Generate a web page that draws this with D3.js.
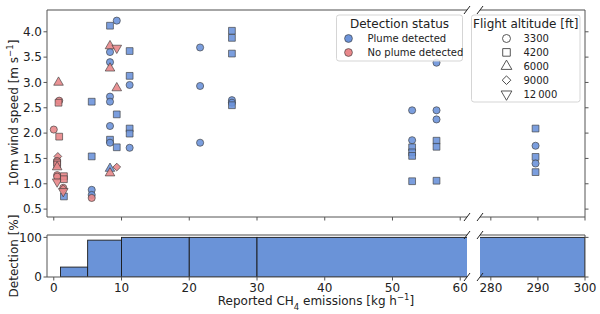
<!DOCTYPE html>
<html><head><meta charset="utf-8">
<script src="https://cdn.jsdelivr.net/npm/d3@7"></script>
<style>
body{margin:0;background:#fff;}
text{font-family:"DejaVu Sans",sans-serif;fill:#222;}
</style></head>
<body><svg id="c" width="600" height="314"></svg>
<script>
// ---- data ----
const plumeX    = [8.3,9.3,8.3,11.2,8.3,11.2,11.2,8.3,8.3,5.6,9.3,8.3,11.2,11.2,8.3,8.3,9.3,11.2,5.6,8.3,5.6,5.6,1.5,
                   21.6,21.6,21.6,26.3,26.3,26.3,26.3,26.3,26.3,
                   52.9,52.9,52.9,52.9,52.9,52.9,56.5,56.5,56.5,56.5,56.5,56.5,
                   289.5,289.5,289.5,289.5,289.5];
const plumeWind = [4.12,4.22,3.60,3.62,3.40,3.13,2.95,2.72,2.62,2.62,2.37,2.14,2.09,1.99,1.87,1.81,1.72,1.71,1.54,1.30,0.88,0.78,0.75,
                   3.69,2.93,1.81,4.02,3.88,3.57,2.65,2.60,2.55,
                   2.45,1.86,1.72,1.62,1.55,1.05,3.39,2.45,2.27,1.85,1.73,1.06,
                   2.09,1.75,1.53,1.40,1.23];
const plumeAlt  = [4200,3300,3300,4200,3300,4200,3300,3300,3300,4200,4200,3300,4200,4200,4200,3300,4200,3300,4200,6000,3300,3300,4200,
                   3300,3300,3300,4200,4200,4200,3300,3300,4200,
                   3300,3300,4200,4200,4200,4200,3300,3300,3300,4200,4200,4200,
                   4200,3300,4200,3300,4200];
const noPlumeX    = [0.7,0.8,0.7,0.0,0.8,0.6,0.5,0.5,0.5,0.5,0.5,0.5,0.5,1.5,1.5,1.4,1.4,1.4,5.6,8.3,8.3,8.3,9.3,9.3,9.3];
const noPlumeWind = [3.00,2.64,2.60,2.07,1.93,1.54,1.45,1.42,1.38,1.33,1.17,1.14,1.04,1.15,1.09,0.92,0.90,0.85,0.72,3.72,3.28,1.21,3.68,2.89,1.33];
const noPlumeAlt  = [6000,3300,4200,3300,4200,9000,3300,4200,4200,6000,3300,3300,12000,4200,4200,3300,9000,12000,3300,6000,6000,6000,12000,6000,9000];
const binEdges  = [1,5,10,20,30,300];
const detection = [25,93,100,100,100];
const altitudes = [3300,4200,6000,9000,12000];
const altLabels = ["3300","4200","6000","9000","12\u2009000"];
const statusLabels = ["Plume detected","No plume detected"];
const yTicks = [0.5,1.0,1.5,2.0,2.5,3.0,3.5,4.0];
const xTicksL = [0,10,20,30,40,50,60];
const xTicksR = [280,290,300];

// ---- layout ----
const svg = d3.select("#c");
const BLUE="#6d94da", RED="#e8878a", SPINE="#555";
const FS=12, LFS=10;
const xL = d3.scaleLinear().domain([-1,61]).range([47,467]);
const xR = d3.scaleLinear().domain([277.7,300]).range([480,585]);
const yT = d3.scaleLinear().domain([0.344,4.43]).range([217,10]);
const yB = d3.scaleLinear().domain([0,106]).range([277,235]);

const defs = svg.append("defs");
function clip(id,x0,x1,y0,y1){defs.append("clipPath").attr("id",id).append("rect").attr("x",x0).attr("y",y0).attr("width",x1-x0).attr("height",y1-y0);}
clip("cTL",47,467,10,217); clip("cTR",480,585,10,217);
clip("cBL",47,467,235,277); clip("cBR",480,585,235,277);

const shapeOf = {3300:d3.symbolCircle,4200:d3.symbolSquare,6000:d3.symbolTriangle,9000:d3.symbolSquare,12000:d3.symbolTriangle};
const sizeOf  = {3300:40,4200:46,6000:40,9000:30,12000:40};
const rotOf   = {3300:0,4200:0,6000:0,9000:45,12000:180};
function sym(alt,scale){return d3.symbol().type(shapeOf[alt]).size(sizeOf[alt]*(scale||1))();}

// ---- histogram ----
const bins = detection.map((d,i)=>({x0:binEdges[i],x1:binEdges[i+1],v:d}));
[[xL,"cBL"],[xR,"cBR"]].forEach(([xs,cid])=>{
  svg.append("g").attr("clip-path",`url(#${cid})`).selectAll("rect").data(bins).join("rect")
    .attr("x",d=>xs(d.x0)).attr("width",d=>xs(d.x1)-xs(d.x0))
    .attr("y",d=>yB(d.v)).attr("height",d=>yB(0)-yB(d.v))
    .attr("fill","#6a93d8").attr("stroke","#1a1a1a").attr("stroke-width",0.9);
});

// ---- scatter ----
const pts=[];
plumeX.forEach((x,i)=>pts.push({x,y:plumeWind[i],alt:plumeAlt[i],c:BLUE}));
noPlumeX.forEach((x,i)=>pts.push({x,y:noPlumeWind[i],alt:noPlumeAlt[i],c:RED}));
[[xL,"cTL"],[xR,"cTR"]].forEach(([xs,cid])=>{
  svg.append("g").attr("clip-path",`url(#${cid})`).selectAll("path").data(pts).join("path")
    .attr("d",d=>sym(d.alt))
    .attr("transform",d=>`translate(${xs(d.x)},${yT(d.y)}) rotate(${rotOf[d.alt]})`)
    .attr("fill",d=>d.c).attr("fill-opacity",0.9).attr("stroke","#3a3a3a").attr("stroke-opacity",0.8).attr("stroke-width",0.8);
});

// ---- spines & axes ----
function line(x1,y1,x2,y2,c,w){svg.append("line").attr("x1",x1).attr("y1",y1).attr("x2",x2).attr("y2",y2).attr("stroke",c||SPINE).attr("stroke-width",w||1);}
line(47,10,467,10,"#888",1.6); line(480,10,585,10,"#888",1.6);
line(47,10,47,217); line(47,217,467,217); line(480,217,585,217); line(585,10,585,217);
line(47,235,467,235,"#888",1.6); line(480,235,585,235,"#888",1.6);
line(47,235,47,277); line(47,277,467,277); line(480,277,585,277); line(585,235,585,277);

yTicks.forEach(v=>{
  line(43.5,yT(v),47,yT(v));
  line(585,yT(v),588.5,yT(v));
  svg.append("text").attr("x",42).attr("y",yT(v)).attr("dy","0.35em").attr("text-anchor","end").attr("font-size",FS).text(v.toFixed(1));
});
[0,100].forEach(v=>{
  line(43.5,yB(v),47,yB(v));
  line(585,yB(v),588.5,yB(v));
  svg.append("text").attr("x",42).attr("y",yB(v)).attr("dy","0.35em").attr("text-anchor","end").attr("font-size",FS).text(v);
});
xTicksL.forEach(v=>{
  line(xL(v),217,xL(v),220.5); line(xL(v),277,xL(v),280.5);
  svg.append("text").attr("x",xL(v)).attr("y",292).attr("text-anchor","middle").attr("font-size",FS).text(v);
});
xTicksR.forEach(v=>{
  line(xR(v),217,xR(v),220.5); line(xR(v),277,xR(v),280.5);
  svg.append("text").attr("x",xR(v)).attr("y",292).attr("text-anchor","middle").attr("font-size",FS).text(v);
});
[10,217,235,277].forEach(y=>{
  [467,480].forEach(x=>line(x-3,y+4,x+3,y-4,"#222",1));
});

const yl = svg.append("text").attr("transform","translate(18,113) rotate(-90)").attr("text-anchor","middle").attr("font-size",FS);
yl.append("tspan").text("10m wind speed [m s");
yl.append("tspan").attr("baseline-shift","super").attr("font-size",8.5).text("\u22121");
yl.append("tspan").text("]");
svg.append("text").attr("transform","translate(18,256) rotate(-90)").attr("text-anchor","middle").attr("font-size",FS).text("Detection [%]");
const xl = svg.append("text").attr("x",316).attr("y",305).attr("text-anchor","middle").attr("font-size",FS);
xl.append("tspan").text("Reported CH");
xl.append("tspan").attr("baseline-shift","sub").attr("font-size",8.5).text("4");
xl.append("tspan").text(" emissions [kg h");
xl.append("tspan").attr("baseline-shift","super").attr("font-size",8.5).text("\u22121");
xl.append("tspan").text("]");

// ---- legends ----
function box(x,y,w,h){svg.append("rect").attr("x",x).attr("y",y).attr("width",w).attr("height",h).attr("rx",2.5).attr("fill","#fff").attr("fill-opacity",0.85).attr("stroke","#d5d5d5").attr("stroke-width",1);}
box(336.5,15,126,46);
svg.append("text").attr("x",399.5).attr("y",23.5).attr("dy","0.35em").attr("text-anchor","middle").attr("font-size",FS).text("Detection status");
[BLUE,RED].forEach((c,i)=>{
  svg.append("path").attr("d",d3.symbol().type(d3.symbolCircle).size(48)()).attr("transform",`translate(348.5,${38.5+i*14})`)
    .attr("fill",c).attr("stroke","#3a3a3a").attr("stroke-opacity",0.8).attr("stroke-width",0.8);
  svg.append("text").attr("x",367.5).attr("y",38.5+i*14).attr("dy","0.35em").attr("font-size",LFS).text(statusLabels[i]);
});
box(471.5,15,108.5,87);
svg.append("text").attr("x",525.7).attr("y",23.5).attr("dy","0.35em").attr("text-anchor","middle").attr("font-size",FS).text("Flight altitude [ft]");
altitudes.forEach((a,i)=>{
  const y=38.5+i*13.9;
  svg.append("path").attr("d",sym(a,1.25)).attr("transform",`translate(506.5,${y}) rotate(${rotOf[a]})`)
    .attr("fill","#fff").attr("stroke","#444").attr("stroke-width",0.9);
  svg.append("text").attr("x",523.5).attr("y",y).attr("dy","0.35em").attr("font-size",LFS).text(altLabels[i]);
});
</script></body></html>
